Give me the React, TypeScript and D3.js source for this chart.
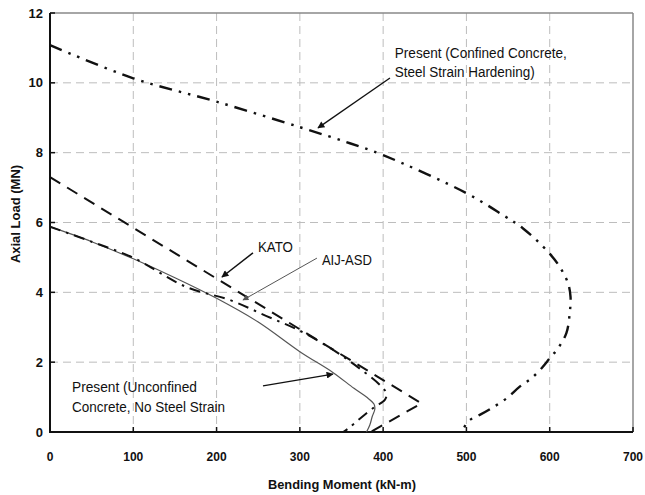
import React from "react";
import * as d3 from "d3";

// ---- data (M in kN-m, P in MN) ----
const xTicks = [0, 100, 200, 300, 400, 500, 600, 700];
const yTicks = [0, 2, 4, 6, 8, 10, 12];

const confinedM = [0, 100, 200, 300, 360, 400, 500, 544, 568, 598, 612, 622, 625, 624, 620, 610, 600, 590, 578, 564, 548, 530, 516, 504, 497, 495];
const confinedP = [11.08, 10.13, 9.46, 8.73, 8.27, 7.93, 6.84, 6.21, 5.83, 5.16, 4.73, 4.26, 3.87, 3.4, 2.83, 2.4, 2.11, 1.82, 1.54, 1.3, 0.96, 0.68, 0.49, 0.34, 0.12, 0];

const katoM = [0, 446, 385];
const katoP = [7.3, 0.82, 0];

const aijM = [0, 50, 100, 164, 216, 260, 300, 340, 370, 396, 404, 402, 390, 372, 358, 352];
const aijP = [5.88, 5.45, 4.99, 4.15, 3.78, 3.32, 2.9, 2.35, 1.85, 1.35, 1.1, 0.92, 0.72, 0.38, 0.1, 0];

const unconfM = [0, 50, 100, 150, 200, 250, 300, 340, 365, 380, 389, 390, 387, 384, 380];
const unconfP = [5.88, 5.45, 4.96, 4.42, 3.83, 3.15, 2.3, 1.7, 1.25, 1.0, 0.8, 0.65, 0.45, 0.2, 0];

const W = 645, H = 495;
const x = d3.scaleLinear().domain([0, 700]).range([50, 633]);
const y = d3.scaleLinear().domain([0, 12]).range([432, 13]);

const zip = (ms: number[], ps: number[]) => ms.map((m, i) => [m, ps[i]] as [number, number]);

const smooth = d3.line<[number, number]>().x(d => x(d[0])).y(d => y(d[1])).curve(d3.curveCatmullRom.alpha(0.5));
const straight = d3.line<[number, number]>().x(d => x(d[0])).y(d => y(d[1]));

const FONT = "'Liberation Sans', Arial, Helvetica, sans-serif";

export default function App() {
  const grid = "#bdbdbd";
  const arrow = (m1: number, p1: number, m2: number, p2: number, color: string, w: number, id: string) => (
    <line x1={x(m1)} y1={y(p1)} x2={x(m2)} y2={y(p2)} stroke={color} strokeWidth={w} markerEnd={`url(#${id})`} />
  );
  const label = (txt: string, m: number, p: number, len: number) => (
    <text x={x(m)} y={y(p)} fontSize={14} fontFamily={FONT} fill="#111" textLength={len} lengthAdjust="spacingAndGlyphs">{txt}</text>
  );
  return (
    <svg width={W} height={H} style={{ position: "absolute", left: 0, top: 0, background: "#fff" }}>
      <defs>
        <marker id="hb" viewBox="0 0 10 10" refX="9" refY="5" markerWidth="9" markerHeight="7" markerUnits="userSpaceOnUse" orient="auto">
          <path d="M0,0 L10,5 L0,10 z" fill="#111" />
        </marker>
        <marker id="hg" viewBox="0 0 10 10" refX="9" refY="5" markerWidth="8" markerHeight="6" markerUnits="userSpaceOnUse" orient="auto">
          <path d="M0,0 L10,5 L0,10 z" fill="#555" />
        </marker>
      </defs>
      <rect x={0} y={0} width={W} height={H} fill="#fff" />
      {/* grid */}
      {xTicks.slice(1, -1).map(t => (
        <line key={"gx" + t} x1={x(t)} x2={x(t)} y1={y(12)} y2={y(0)} stroke={grid} strokeWidth={1} strokeDasharray="8,5" />
      ))}
      {yTicks.slice(1, -1).map(t => (
        <line key={"gy" + t} x1={x(0)} x2={x(700)} y1={y(t)} y2={y(t)} stroke={grid} strokeWidth={1} strokeDasharray="8,5" />
      ))}
      {/* frame */}
      <line x1={x(0)} x2={x(700)} y1={y(12)} y2={y(12)} stroke="#888" strokeWidth={1.5} />
      <line x1={x(700)} x2={x(700)} y1={y(12)} y2={y(0)} stroke="#888" strokeWidth={1.5} />
      <line x1={x(0)} x2={x(0)} y1={y(12)} y2={y(0) + 1} stroke="#111" strokeWidth={2} />
      <line x1={x(0) - 1} x2={x(700)} y1={y(0)} y2={y(0)} stroke="#111" strokeWidth={2} />
      {xTicks.map(t => (
        <line key={"tx" + t} x1={x(t)} x2={x(t)} y1={y(0)} y2={y(0) - 5} stroke="#111" strokeWidth={1.5} />
      ))}
      {yTicks.map(t => (
        <line key={"ty" + t} x1={x(0)} x2={x(0) + 5} y1={y(t)} y2={y(t)} stroke="#111" strokeWidth={1.5} />
      ))}
      {/* tick labels */}
      {xTicks.map(t => (
        <text key={"lx" + t} x={x(t)} y={461} textAnchor="middle" fontSize={12} fontWeight="bold" fontFamily={FONT} fill="#111">{t}</text>
      ))}
      {yTicks.map(t => (
        <text key={"ly" + t} x={43} y={y(t) + 4.5} textAnchor="end" fontSize={13} fontWeight="bold" fontFamily={FONT} fill="#111">{t}</text>
      ))}
      {/* axis titles */}
      <text x={342} y={489} textAnchor="middle" fontSize={12} fontWeight="bold" fontFamily={FONT} fill="#111" textLength={148} lengthAdjust="spacingAndGlyphs">Bending Moment (kN-m)</text>
      <text transform="translate(20,214) rotate(-90)" textAnchor="middle" fontSize={13} fontWeight="bold" fontFamily={FONT} fill="#111">Axial Load (MN)</text>
      {/* curves */}
      <path d={smooth(zip(unconfM, unconfP)) || ""} fill="none" stroke="#555" strokeWidth={1.2} />
      <path d={smooth(zip(aijM, aijP)) || ""} fill="none" stroke="#111" strokeWidth={2} strokeDasharray="11,6,2.5,6" />
      <path d={straight(zip(katoM, katoP)) || ""} fill="none" stroke="#111" strokeWidth={2} strokeDasharray="12,8" />
      <path d={smooth(zip(confinedM, confinedP)) || ""} fill="none" stroke="#111" strokeWidth={2.4} strokeDasharray="13,7,2.5,7,2.5,7" />
      {/* annotations */}
      {arrow(408.2, 10.14, 321.8, 8.71, "#111", 1.3, "hb")}
      {arrow(243.7, 5.13, 206.5, 4.44, "#111", 1.5, "hb")}
      {arrow(320.5, 4.98, 231.7, 3.78, "#555", 1, "hg")}
      {arrow(255.7, 1.32, 339.7, 1.66, "#111", 1.3, "hb")}
      {label("Present (Confined Concrete,", 414, 10.71, 172)}
      {label("Steel Strain Hardening)", 414, 10.17, 140)}
      {label("Present (Unconfined", 26.4, 1.15, 125)}
      {label("Concrete, No Steel Strain", 26.4, 0.58, 153)}
      {label("KATO", 249.7, 5.15, 35)}
      {label("AIJ-ASD", 326.5, 4.78, 50)}
    </svg>
  );
}
